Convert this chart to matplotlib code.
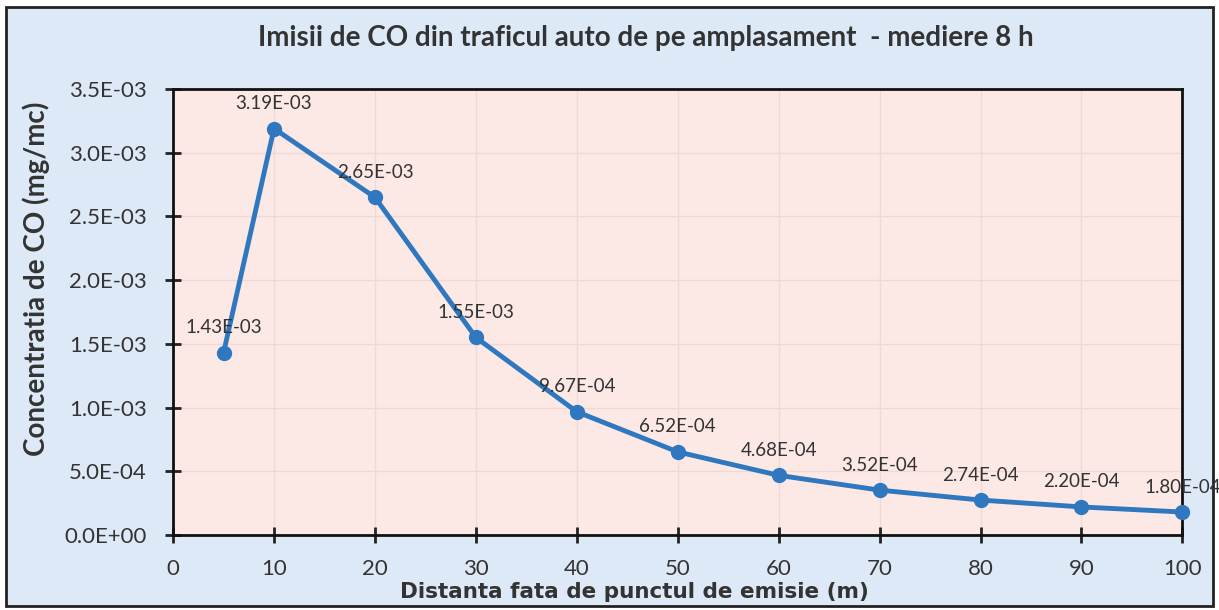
import matplotlib.pyplot as plt
from matplotlib.patches import Rectangle
from matplotlib.ticker import FuncFormatter

distanta = [5, 10, 20, 30, 40, 50, 60, 70, 80, 90, 100]
concentratie = [1.43e-3, 3.19e-3, 2.65e-3, 1.55e-3, 9.67e-4, 6.52e-4,
                4.68e-4, 3.52e-4, 2.74e-4, 2.20e-4, 1.80e-4]
etichete = ["1.43E-03", "3.19E-03", "2.65E-03", "1.55E-03", "9.67E-04", "6.52E-04",
            "4.68E-04", "3.52E-04", "2.74E-04", "2.20E-04", "1.80E-04"]

plt.rcParams['font.family'] = ['Lato', 'DejaVu Sans']
text_col = '#333333'
blue = '#2f78bf'

fig = plt.figure(figsize=(12.19, 6.10), dpi=100, facecolor='white')
fig.patches.append(Rectangle((0.005, 0.006), 0.99, 0.983, transform=fig.transFigure,
                             facecolor='#dde9f7', edgecolor='#222222', linewidth=2, zorder=-10))

ax = fig.add_axes([0.142, 0.123, 0.828, 0.731])
ax.set_facecolor('#fce9e6')
ax.plot(distanta, concentratie, color=blue, linewidth=3.5, marker='o',
        markersize=10, markerfacecolor=blue, markeredgecolor=blue, zorder=3, clip_on=False)
for x, y, t in zip(distanta, concentratie, etichete):
    ax.annotate(t, (x, y), xytext=(0, 14), textcoords='offset points', ha='center',
                fontsize=13.5, color=text_col)

ax.set_xlim(0, 100)
ax.set_ylim(0, 3.5e-3)
ax.set_xticks(range(0, 101, 10))
ax.set_yticks([i * 5e-4 for i in range(8)])
ax.yaxis.set_major_formatter(FuncFormatter(lambda v, p: "%.1E" % v))
ax.grid(True, color='#eed9d6', linewidth=1)
ax.set_axisbelow(True)
for s in ax.spines.values():
    s.set_color('#111111')
    s.set_linewidth(2)
ax.tick_params(direction='inout', length=12, width=2, color='#222222',
               labelsize=16, labelcolor=text_col)
ax.tick_params(axis='x', pad=11)
ax.tick_params(axis='y', pad=13)

ax.set_xlabel("Distanta fata de punctul de emisie (m)", fontsize=15.5, fontweight='bold',
              color=text_col, family=['DejaVu Sans'])
ax.xaxis.set_label_coords(0.457, -0.105)
ax.set_ylabel("Concentratia de CO (mg/mc)", fontsize=20, fontweight='bold',
              color=text_col)
ax.yaxis.set_label_coords(-0.122, 0.574)
fig.text(0.53, 0.937, "Imisii de CO din traficul auto de pe amplasament  - mediere 8 h",
         ha='center', va='center', fontsize=20, fontweight='bold', color=text_col)

fig.savefig('out.png', dpi=100, facecolor='white')
